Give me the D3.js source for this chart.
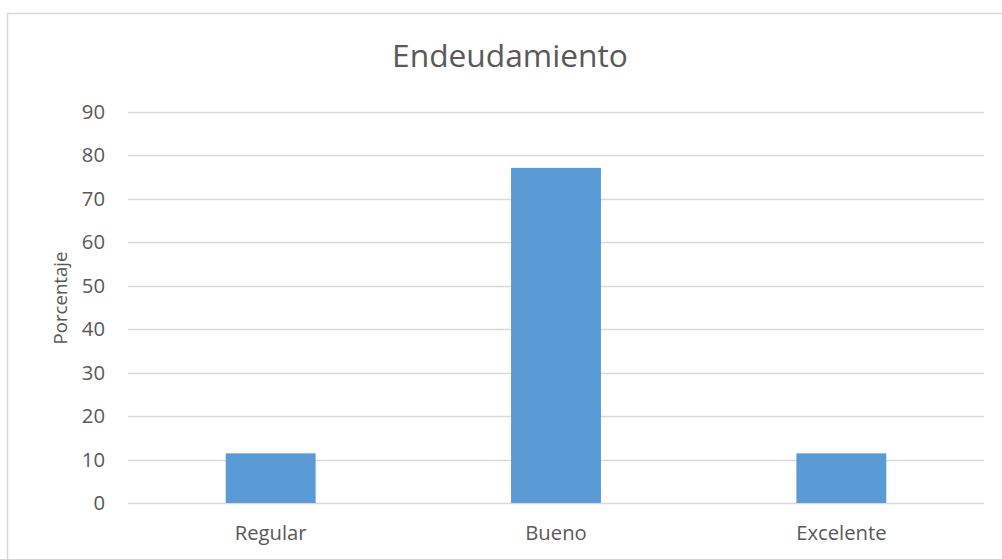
<!DOCTYPE html>
<html>
<head>
<meta charset="utf-8">
<script src="https://cdn.jsdelivr.net/npm/d3@7"></script>
<style>
  html, body { margin: 0; padding: 0; background: #fff; }
  svg { display: block; }
  text { font-family: "Open Sans", "Noto Sans", sans-serif; fill: #595959; }
</style>
</head>
<body>
<svg id="chart" width="1002" height="559"></svg>
<script>
const title = "Endeudamiento";
const yLabel = "Porcentaje";
const categories = ["Regular", "Bueno", "Excelente"];
const values = [11.43, 77.14, 11.43];
const yTicks = [0, 10, 20, 30, 40, 50, 60, 70, 80, 90];

const W = 1002, H = 559;
const svg = d3.select("#chart");

// fit a text element's font size to a target length
function fit(sel, target) {
  const len = sel.node().getComputedTextLength();
  const fs = parseFloat(sel.style("font-size"));
  const size = fs * target / len;
  sel.style("font-size", size + "px");
  return size;
}

// outer chart border
svg.append("rect")
  .attr("x", 7.5).attr("y", 13.5)
  .attr("width", W + 20).attr("height", H + 20)
  .attr("fill", "none").attr("stroke", "#d9d9d9").attr("stroke-width", 1.5);

const x = d3.scaleBand().domain(categories).range([128, 984]).padding(0);
const y = d3.scaleLinear().domain([0, 90]).range([503, 112]);

// gridlines
svg.append("g").selectAll("line").data(yTicks).join("line")
  .attr("x1", 128).attr("x2", 984)
  .attr("y1", d => Math.round(y(d)) + 0.5).attr("y2", d => Math.round(y(d)) + 0.5)
  .attr("stroke", "#d9d9d9").attr("stroke-width", 1.3);

// bars
const barW = x.bandwidth() * 0.315;
svg.append("g").selectAll("rect").data(values).join("rect")
  .attr("x", (d, i) => x(categories[i]) + (x.bandwidth() - barW) / 2)
  .attr("width", barW)
  .attr("y", d => y(d))
  .attr("height", d => y(0) - y(d))
  .attr("fill", "#5b9bd5");

// x axis labels
const xAxis = d3.axisBottom(x).tickSize(0).tickPadding(0);
const gx = svg.append("g").attr("transform", "translate(0,0)").call(xAxis);
gx.select(".domain").remove();
gx.selectAll("text").attr("y", 540).attr("dy", null).attr("fill", "#595959")
  .style("font-family", '"Open Sans", "Noto Sans", sans-serif').style("font-size", "18px");
const labelSize = fit(gx.selectAll("text").filter((d, i) => i === 0), 72);
gx.selectAll("text").style("font-size", labelSize + "px");

// y axis tick labels
const yAxis = d3.axisLeft(y).tickValues(yTicks).tickSize(0).tickPadding(0);
const gy = svg.append("g").attr("transform", "translate(105,0)").call(yAxis);
gy.select(".domain").remove();
gy.selectAll("text").style("font-size", labelSize + "px").attr("fill", "#595959")
  .style("font-family", '"Open Sans", "Noto Sans", sans-serif');

// title
const t = svg.append("text").attr("x", 510).attr("y", 67)
  .attr("text-anchor", "middle").style("font-size", "30px").text(title);
fit(t, 236);

// y label
const yl = svg.append("text")
  .attr("transform", "translate(67,298) rotate(-90)")
  .attr("text-anchor", "middle").style("font-size", "18px").text(yLabel);
fit(yl, 93);
</script>
</body>
</html>
